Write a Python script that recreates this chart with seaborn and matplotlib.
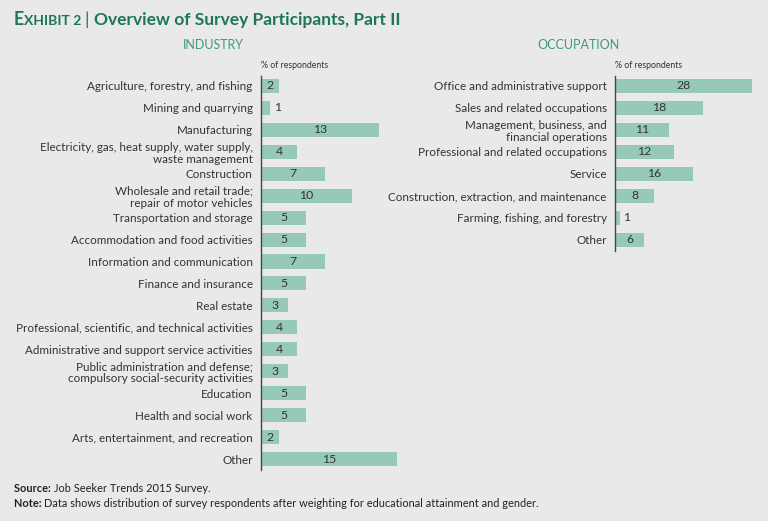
import matplotlib
matplotlib.use("Agg")
import matplotlib.pyplot as plt
import seaborn as sns
import pandas as pd

# Data
industry_labels = [
    "Agriculture, forestry, and fishing",
    "Mining and quarrying",
    "Manufacturing",
    "Electricity, gas, heat supply, water supply,\nwaste management",
    "Construction",
    "Wholesale and retail trade;\nrepair of motor vehicles",
    "Transportation and storage",
    "Accommodation and food activities",
    "Information and communication",
    "Finance and insurance",
    "Real estate",
    "Professional, scientific, and technical activities",
    "Administrative and support service activities",
    "Public administration and defense;\ncompulsory social-security activities",
    "Education",
    "Health and social work",
    "Arts, entertainment, and recreation",
    "Other",
]
industry_values = [2, 1, 13, 4, 7, 10, 5, 5, 7, 5, 3, 4, 4, 3, 5, 5, 2, 15]

occupation_labels = [
    "Office and administrative support",
    "Sales and related occupations",
    "Management, business, and\nfinancial operations",
    "Professional and related occupations",
    "Service",
    "Construction, extraction, and maintenance",
    "Farming, fishing, and forestry",
    "Other",
]
occupation_values = [28, 18, 11, 12, 16, 8, 1, 6]

BG = "#e9e9eb"
BAR = "#97c9b8"
TITLE_GREEN = "#1d7656"
HEAD_GREEN = "#3f9a7c"
TEXT = "#333333"

sns.set_theme(style="white")
plt.rcParams["font.family"] = ["Lato", "DejaVu Sans"]

fig = plt.figure(figsize=(7.68, 5.21), dpi=100, facecolor=BG)
renderer = fig.canvas.get_renderer()

W, H = 768, 521


def px_axes(x0, y0, x1, y1):
    return fig.add_axes([x0 / W, 1 - y1 / H, (x1 - x0) / W, (y1 - y0) / H])


def draw_panel(ax, labels, values, xmax):
    df = pd.DataFrame({"label": labels, "value": values})
    sns.barplot(data=df, y="label", x="value", color=BAR, orient="h",
                width=0.64, saturation=1, linewidth=0, ax=ax)
    ax.set_facecolor(BG)
    ax.set_xlim(0, xmax)
    ax.set_ylim(len(labels) - 0.5, -0.45)
    ax.set_xlabel("")
    ax.set_ylabel("")
    ax.set_xticks([])
    for side in ["top", "right", "bottom"]:
        ax.spines[side].set_visible(False)
    ax.spines["left"].set_color("#444444")
    ax.spines["left"].set_linewidth(1.0)
    ax.tick_params(axis="y", length=0, pad=6, labelsize=8.4, labelcolor=TEXT)
    for t in ax.get_yticklabels():
        t.set_linespacing(1.12)
    for i, v in enumerate(values):
        if v >= 2:
            ax.text(v / 2, i, str(v), ha="center", va="center",
                    fontsize=8.8, color=TEXT)
        else:
            ax.text(v + xmax * 0.025, i, str(v), ha="left", va="center",
                    fontsize=8.8, color=TEXT)


def run_text(x, y, parts, **kw):
    # draw text pieces one after another on the same baseline (pixels)
    for s, extra in parts:
        t = fig.text(x / W, 1 - y / H, s, va="baseline", **kw, **extra)
        x += t.get_window_extent(renderer).width
    return x


ax1 = px_axes(261, 76, 420, 470)
draw_panel(ax1, industry_labels, industry_values, 159 / 9.08)

ax2 = px_axes(615, 76, 760, 251)
draw_panel(ax2, occupation_labels, occupation_values, 145 / 4.9)

# Title
run_text(14, 25, [
    ("E", dict(fontsize=12.8, fontweight="bold")),
    ("XHIBIT 2 ", dict(fontsize=10, fontweight="bold")),
    ("| ", dict(fontsize=13)),
    ("Overview of Survey Participants, Part II",
     dict(fontsize=12.5, fontweight="bold")),
], color=TITLE_GREEN)

# Panel headers
fig.text(213 / W, 1 - 45 / H, "INDUSTRY", ha="center", va="center",
         fontsize=9, color=HEAD_GREEN)
fig.text(578 / W, 1 - 45 / H, "OCCUPATION", ha="center", va="center",
         fontsize=9, color=HEAD_GREEN)
fig.text(261 / W, 1 - 65 / H, "% of respondents", ha="left", va="center",
         fontsize=6.3, color=TEXT)
fig.text(615 / W, 1 - 65 / H, "% of respondents", ha="left", va="center",
         fontsize=6.3, color=TEXT)

# Footnotes
run_text(14, 492, [
    ("Source: ", dict(fontweight="bold")),
    ("Job Seeker Trends 2015 Survey.", {}),
], fontsize=7.9, color="#222222")
run_text(14, 507, [
    ("Note: ", dict(fontweight="bold")),
    ("Data shows distribution of survey respondents after weighting for "
     "educational attainment and gender.", {}),
], fontsize=7.9, color="#222222")

fig.savefig("out.png", dpi=100, facecolor=BG)
